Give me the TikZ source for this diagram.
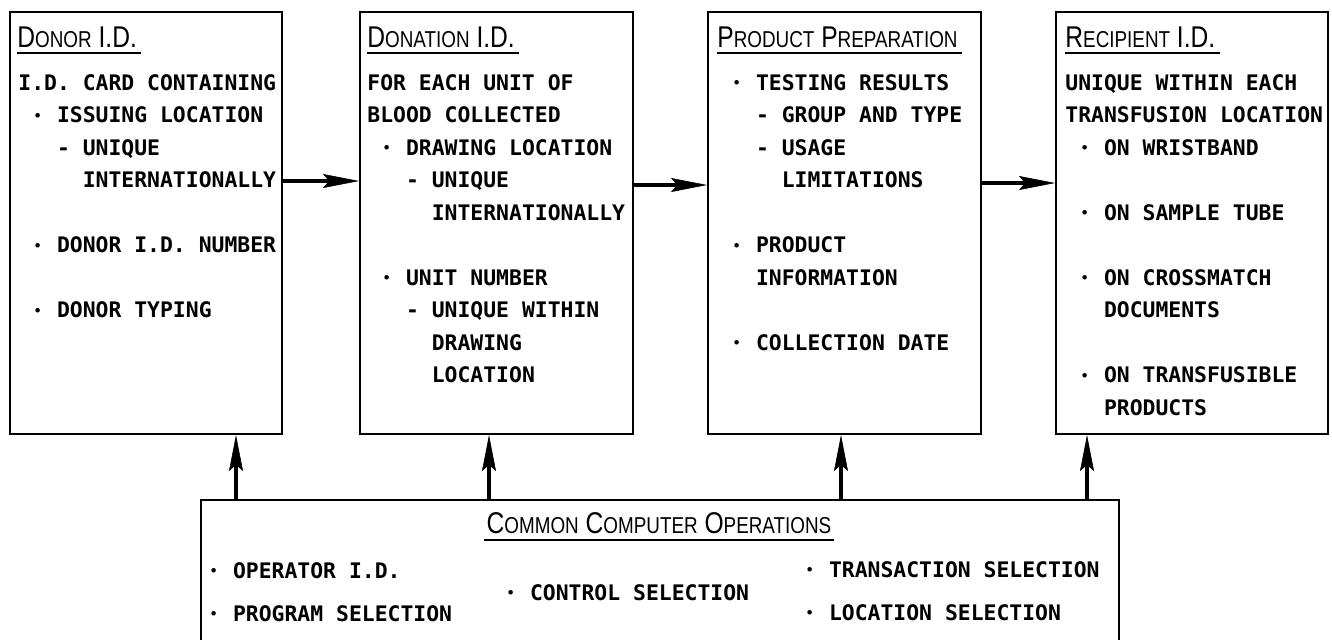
\documentclass[tikz,border=0pt]{standalone}
\usepackage{fontspec}
\usepackage{graphicx}
\usetikzlibrary{arrows.meta}

% fonts: bold monospaced body text, narrow sans headings with small caps built by hand
\newfontfamily\monofnt{DejaVu Sans Mono}
\newfontfamily\headfnt[FakeStretch=0.82]{Liberation Sans}
\newcommand\bodyfnt{\monofnt\bfseries\fontsize{10.7pt}{16.25pt}\selectfont}
\newcommand\Lg{\fontsize{15pt}{17pt}\selectfont}
\newcommand\Sm{\fontsize{11.5pt}{17pt}\selectfont}

% one character column of the body font
\newlength\cw
\newcommand\ind[1]{\hspace*{#1\cw}}
\newcommand\bul{\makebox[\cw]{\raisebox{0.13em}{\scalebox{0.6}{•}}}}
\newcommand\itm{\ind{1}\bul\ind{1}}
\newcommand\sub{\ind{3}\makebox[\cw]{-}\ind{1}}
\newcommand\bst{\rule{0pt}{8pt}}
\newcommand\gap{\\[16.25pt]}

\begin{document}
\settowidth{\cw}{\bodyfnt M}
\begin{tikzpicture}[x=0.5pt,y=-0.5pt,
  box/.style={draw, line width=1pt, inner sep=0pt, anchor=north west,
              minimum height=211pt},
  body/.style={anchor=north west, inner sep=0pt, align=left, font=\bodyfnt},
  item/.style={anchor=base west, inner sep=0pt, font=\bodyfnt},
  head/.style={anchor=base west, inner sep=0pt, font=\headfnt\Lg},
  uline/.style={line width=0.75pt},
  arr/.style={line width=2pt,
              -{Stealth[length=18pt,width=7pt,inset=3pt,line width=0.3pt]}}]

\useasboundingbox (0,0) rectangle (1332,639);
\clip (0,0) rectangle (1332,639);

% the four stages
\node[box, minimum width=136pt]   (b1) at (9,11)    {};
\node[box, minimum width=136.5pt] (b2) at (359,11)  {};
\node[box, minimum width=136.5pt] (b3) at (707,11)  {};
\node[box, minimum width=136pt]   (b4) at (1055,11) {};

% shared operations box, running past the lower edge
\node[box, minimum width=459pt, minimum height=100pt] (cb) at (200,499) {};

% headings
\node[head] (h1) at (17,47)   {D{\Sm ONOR} I.D.};
\node[head] (h2) at (367,47)  {D{\Sm ONATION} I.D.};
\node[head] (h3) at (717,47)  {P{\Sm RODUCT} P{\Sm REPARATION}};
\node[head] (h4) at (1065,47) {R{\Sm ECIPIENT} I.D.};
\node[head, anchor=base] (ch) at (659,533)
  {C{\Sm OMMON} C{\Sm OMPUTER} O{\Sm PERATIONS}};

\foreach \h in {h1,h2,h3,h4}
  \draw[uline] ([yshift=-3pt]\h.base west) -- ([yshift=-3pt,xshift=2pt]\h.base east);
\draw[uline] ([yshift=-3.5pt,xshift=-1pt]ch.base west) -- ([yshift=-3.5pt,xshift=1pt]ch.base east);

% stage contents
\node[body] (t1) at (18,74) {\bst I.D. CARD CONTAINING\\
\itm ISSUING LOCATION\\
\sub UNIQUE\\
\ind{5}INTERNATIONALLY\gap
\itm DONOR I.D. NUMBER\gap
\itm DONOR TYPING};

\node[body] (t2) at (367,74) {\bst FOR EACH UNIT OF\\
BLOOD COLLECTED\\
\itm DRAWING LOCATION\\
\sub UNIQUE\\
\ind{5}INTERNATIONALLY\gap
\itm UNIT NUMBER\\
\sub UNIQUE WITHIN\\
\ind{5}DRAWING\\
\ind{5}LOCATION};

\node[body] (t3) at (717,74) {\bst\itm TESTING RESULTS\\
\sub GROUP AND TYPE\\
\sub USAGE\\
\ind{5}LIMITATIONS\gap
\itm PRODUCT\\
\ind{3}INFORMATION\gap
\itm COLLECTION DATE};

\node[body] (t4) at (1065,74) {\bst UNIQUE WITHIN EACH\\
TRANSFUSION LOCATION\\
\itm ON WRISTBAND\gap
\itm ON SAMPLE TUBE\gap
\itm ON CROSSMATCH\\
\ind{3}DOCUMENTS\gap
\itm ON TRANSFUSIBLE\\
\ind{3}PRODUCTS};

% operations list
\node[item] (op)  at (194,578) {\itm OPERATOR I.D.};
\node[item] (pr)  at (194,621) {\itm PROGRAM SELECTION};
\node[item] (co)  at (491,600) {\itm CONTROL SELECTION};
\node[item] (tr)  at (790,577) {\itm TRANSACTION SELECTION};
\node[item] (lo)  at (790,620) {\itm LOCATION SELECTION};

% flow between stages
\coordinate (r1) at (0,181);
\coordinate (r2) at (0,185);
\coordinate (r3) at (0,183);
\draw[arr] (b1.east |- r1) -- (b2.west |- r1);
\draw[arr] (b2.east |- r2) -- (b3.west |- r2);
\draw[arr] (b3.east |- r3) -- (b4.west |- r3);

% operations feeding every stage
\coordinate (c1) at (236,0);
\coordinate (c2) at (489,0);
\coordinate (c3) at (841,0);
\coordinate (c4) at (1087,0);
\draw[arr] (cb.north -| c1) -- (b1.south -| c1);
\draw[arr] (cb.north -| c2) -- (b2.south -| c2);
\draw[arr] (cb.north -| c3) -- (b3.south -| c3);
\draw[arr] (cb.north -| c4) -- (b4.south -| c4);

\end{tikzpicture}
\end{document}
